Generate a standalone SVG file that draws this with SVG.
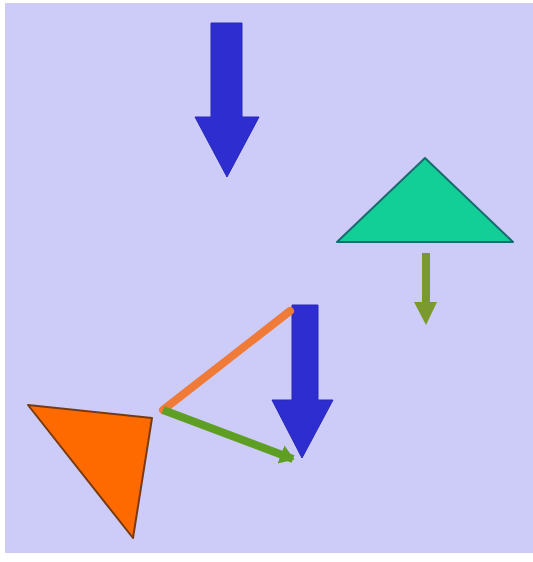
<svg xmlns="http://www.w3.org/2000/svg" width="533" height="562" viewBox="0 0 533 562">
<defs>
<style>
.blue{fill:#2e2ed0;stroke:#2828b8;stroke-width:1}
.tri{stroke-width:2;stroke-linejoin:round}
</style>
<marker id="gh" markerWidth="4" markerHeight="4" refX="1.6" refY="2" orient="auto" markerUnits="strokeWidth"><path d="M0,0.8 L1.8,2 L0,3.2 z" fill="#5e9e22"/></marker>
</defs>
<rect width="533" height="562" fill="#ffffff"/>
<rect x="5" y="3" width="528" height="550" fill="#cdcbf8"/>
<g id="arrow-top"><path class="blue" d="M211,23 H242 V117 H259 L227,177 L195,117 H211 Z"/></g>
<g id="teal-triangle"><path class="tri" d="M425,158 L513,242 L337,242 Z" fill="#12cf98" stroke="#1a6a70"/></g>
<g id="olive-arrow"><path d="M422,253 H430 V302 H437 L426,325 L414,302 H422 Z" fill="#7b9a2e"/></g>
<g id="orange-triangle"><path class="tri" d="M28,405 L152,418 L133,538 Z" fill="#ff6a00" stroke="#7a3a10"/></g>
<g id="arrow-right"><path class="blue" d="M292,305 H318 V400 H333 L302,458 L272,400 H292 Z"/></g>
<g id="connectors">
<line x1="163" y1="410" x2="290" y2="311" stroke="#f07a38" stroke-width="8" stroke-linecap="round"/>
<line x1="163" y1="410" x2="293" y2="459" stroke="#5e9e22" stroke-width="8" marker-end="url(#gh)"/>
</g>
</svg>
